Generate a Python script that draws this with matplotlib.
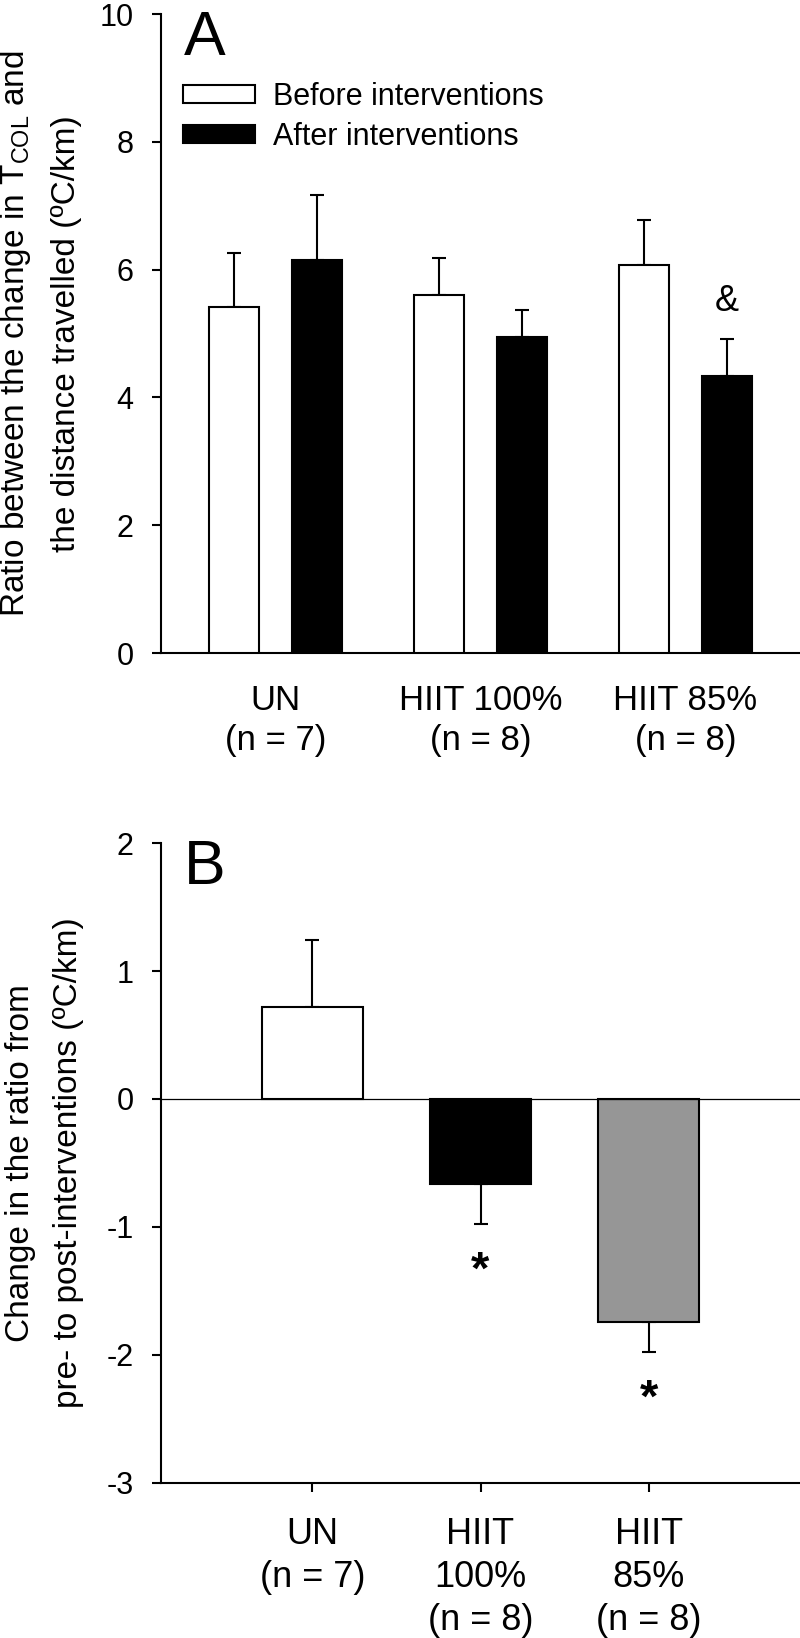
import matplotlib.pyplot as plt
import numpy as np

plt.rcParams['font.family'] = ['Liberation Sans', 'DejaVu Sans']
plt.rcParams['mathtext.fontset'] = 'custom'
plt.rcParams['mathtext.rm'] = 'Liberation Sans'
plt.rcParams['mathtext.default'] = 'regular'
plt.rcParams['axes.unicode_minus'] = False

# panel A: ratio before / after interventions (mean, SE)
groups_a = ['UN\n(n = 7)', 'HIIT 100%\n(n = 8)', 'HIIT 85%\n(n = 8)']
before = [5.42, 5.61, 6.08]
before_se = [0.84, 0.58, 0.70]
after = [6.15, 4.95, 4.34]
after_se = [1.02, 0.42, 0.58]

# panel B: change in the ratio
groups_b = ['UN\n(n = 7)', 'HIIT\n100%\n(n = 8)', 'HIIT\n85%\n(n = 8)']
change = [0.72, -0.665, -1.748]
change_se = [0.52, 0.313, 0.232]
change_colors = ['white', 'black', '#969696']

fig = plt.figure(figsize=(8, 16.38), dpi=100)
ax1 = fig.add_axes([0.2009, 0.6013, 0.7991, 0.3901])
ax2 = fig.add_axes([0.2009, 0.0949, 0.7991, 0.3903])

x = np.arange(3)
w = 0.244
off = 0.202

b1 = ax1.bar(x - off, before, w, color='white', edgecolor='black', lw=1.5,
             label='Before interventions', zorder=3)
b2 = ax1.bar(x + off, after, w, color='black', edgecolor='black', lw=1.5,
             label='After interventions', zorder=3)
ax1.errorbar(x - off, before, yerr=[np.zeros(3), before_se], fmt='none', ecolor='black',
             elinewidth=1.5, capsize=5, capthick=1.5, zorder=2)
ax1.errorbar(x + off, after, yerr=[np.zeros(3), after_se], fmt='none', ecolor='black',
             elinewidth=1.5, capsize=5, capthick=1.5, zorder=2)

ax1.set_xlim(-0.56, 2.56)
ax1.set_ylim(0, 10)
ax1.set_yticks(range(0, 11, 2))
ax1.set_xticks(x)
ax1.set_xticklabels(groups_a, fontsize=25, linespacing=1.27)
ax1.tick_params(axis='x', length=0, pad=22)
ax1.tick_params(axis='y', length=6.5, width=1.5, pad=13, labelsize=22)

ax1.text(2 + off, after[2] + after_se[2] + 0.58, '&', ha='center', va='center', fontsize=26)
ax1.text(0.036, 1.008, 'A', transform=ax1.transAxes, ha='left', va='top', fontsize=45)
ax1.legend(handles=[b1, b2], loc='upper left', bbox_to_anchor=(0.035, 0.894), frameon=False,
           fontsize=22, handlelength=2.36, handleheight=0.52, handletextpad=0.58,
           labelspacing=0.33, borderpad=0, borderaxespad=0)

# panel B
xb = np.arange(3)
bars = ax2.bar(xb, change, 0.6, color=change_colors, edgecolor='black', lw=1.5, zorder=3)
lower = [0 if v > 0 else s for v, s in zip(change, change_se)]
upper = [s if v > 0 else 0 for v, s in zip(change, change_se)]
ax2.errorbar(xb, change, yerr=[lower, upper], fmt='none', ecolor='black',
             elinewidth=1.5, capsize=5, capthick=1.5, zorder=2)
ax2.axhline(0, color='black', lw=0.9, zorder=4)

ax2.set_xlim(-0.902, 2.90)
ax2.set_ylim(-3, 2)
ax2.set_yticks(range(-3, 3))
ax2.set_xticks(xb)
ax2.set_xticklabels(groups_b, fontsize=26, linespacing=1.3)
ax2.tick_params(axis='x', length=6.5, width=1.5, pad=18.5)
ax2.tick_params(axis='y', length=6.5, width=1.5, pad=13, labelsize=22)

ax2.text(1, -1.35, '*', ha='center', va='center', fontsize=34, fontweight='bold')
ax2.text(2, -2.355, '*', ha='center', va='center', fontsize=34, fontweight='bold')
ax2.text(0.036, 1.008, 'B', transform=ax2.transAxes, ha='left', va='top', fontsize=45)

for ax in (ax1, ax2):
    ax.spines['top'].set_visible(False)
    ax.spines['right'].set_visible(False)
    ax.spines['left'].set_linewidth(1.5)
    ax.spines['bottom'].set_linewidth(1.5)

fig.text(0.05, 0.6013 + 0.3901 / 2,
         'Ratio between the change in T$_{COL}$ and\nthe distance travelled (\u00baC/km)',
         rotation=90, ha='center', va='center', fontsize=24, linespacing=1.72)
fig.text(0.0556, 0.0949 + 0.3903 / 2,
         'Change in the ratio from\npre- to post-interventions (\u00baC/km)',
         rotation=90, ha='center', va='center', fontsize=24, linespacing=1.69)

fig.savefig('out.png', dpi=100)
